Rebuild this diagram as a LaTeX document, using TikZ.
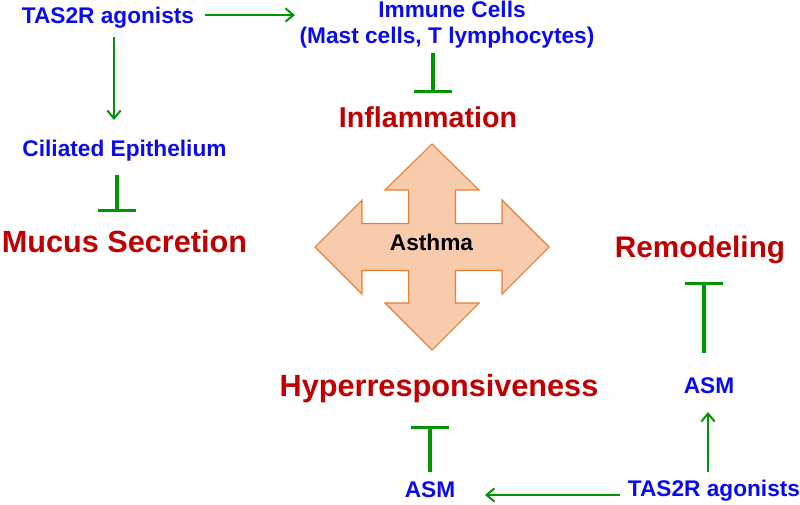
\documentclass[tikz,border=0pt]{standalone}
\usepackage{fontspec}
\setmainfont{Liberation Sans}
\usetikzlibrary{arrows.meta}
\definecolor{tblue}{RGB}{10,10,240}
\definecolor{tred}{RGB}{192,0,0}
\definecolor{tgreen}{RGB}{0,150,0}
\definecolor{peach}{RGB}{248,203,173}
\definecolor{peachline}{RGB}{237,125,49}
\tikzset{
  bluetxt/.style={font=\fontsize{17}{20}\selectfont\bfseries, text=tblue, inner sep=0pt, anchor=base},
  redtxt/.style={font=\fontsize{#1}{#1}\selectfont\bfseries, text=tred, inner sep=0pt, anchor=base},
  activ/.style={draw=tgreen, line width=1.5pt, -{Straight Barb[length=6pt,width=10pt,line width=1.5pt]}},
  inhib/.style={draw=tgreen, line width=2.3pt, -{Bar[width=29pt,line width=2.3pt]}},
  crossarrow/.style={fill=peach, draw=peachline, line width=0.8pt, line join=miter}
}
\begin{document}
\begin{tikzpicture}[x=0.75pt,y=-0.75pt]
\useasboundingbox (0,0) rectangle (800,504);
% four-way arrow
\draw[crossarrow] (432,144) -- (479,190) -- (455.5,190) -- (455.5,223.5) -- (502,223.5) -- (502,200) -- (549,247) -- (502,294) -- (502,270.5) -- (455.5,270.5) -- (455.5,303) -- (479,303) -- (432,350) -- (385,303) -- (408.5,303) -- (408.5,270.5) -- (362,270.5) -- (362,294) -- (315,247) -- (362,200) -- (362,223.5) -- (408.5,223.5) -- (408.5,190) -- (385,190) -- cycle;
\node[font=\fontsize{17}{20}\selectfont\bfseries, text=black, inner sep=0pt, anchor=base] (asthma) at (431.5,250) {Asthma};
% texts
\node[bluetxt] (tas1) at (108,23) {TAS2R agonists};
\node[bluetxt] (imm1) at (452,17) {Immune Cells};
\node[bluetxt] (imm2) at (447,43) {(Mast cells, T lymphocytes)};
\node[redtxt=21.5] (infl) at (428,127) {Inflammation};
\node[bluetxt] (cil) at (124.5,156) {Ciliated Epithelium};
\node[redtxt=23] (mucus) at (124.5,252) {Mucus Secretion};
\node[redtxt=22.3] (remod) at (700,257) {Remodeling};
\node[redtxt=23] (hyper) at (439,396) {Hyperresponsiveness};
\node[bluetxt] (asm1) at (709,393) {ASM};
\node[bluetxt] (asm2) at (430,497) {ASM};
\node[bluetxt] (tas2) at (714,496) {TAS2R agonists};
% connectors
\draw[activ] ([shift={(97,-8)}]tas1.base) -- ([shift={(-157,-2)}]imm1.base);
\draw[activ] ([shift={(6,14)}]tas1.base) -- ([shift={(-10.5,-36)}]cil.base);
\draw[inhib] ([shift={(-14,10)}]imm2.base) -- ([shift={(5,-34)}]infl.base);
\draw[inhib] ([shift={(-7.5,19)}]cil.base) -- ([shift={(-7.5,-40)}]mucus.base);
\draw[inhib] ([shift={(-5,-40)}]asm1.base) -- ([shift={(4,25)}]remod.base);
\draw[activ] ([shift={(-6,-24)}]tas2.base) -- ([shift={(-1,19)}]asm1.base);
\draw[activ] ([shift={(-94,-1)}]tas2.base) -- ([shift={(55,-2)}]asm2.base);
\draw[inhib] ([shift={(0,-25)}]asm2.base) -- ([shift={(-9,30)}]hyper.base);
\end{tikzpicture}
\end{document}
